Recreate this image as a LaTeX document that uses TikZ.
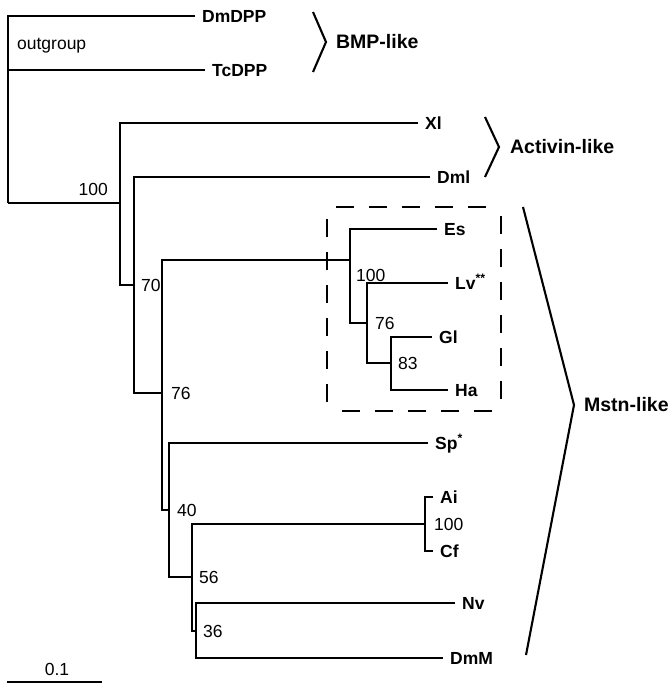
\documentclass[tikz,border=0pt]{standalone}
\usepackage{fontspec}
\setmainfont{Liberation Sans}
\usetikzlibrary{positioning}
\begin{document}
\begin{tikzpicture}[x=1pt, y=-1pt, line width=2.3pt,
	leaf/.style = {anchor=west, inner xsep=6pt, inner ysep=0pt, text height=12pt, text depth=0pt, font=\fontsize{17.5}{20}\selectfont\bfseries},
	boot/.style = {anchor=west, inner sep=0pt, text height=12pt, text depth=0pt, font=\fontsize{17.5}{20}\selectfont},
	group/.style = {anchor=west, inner sep=0pt, text height=13.5pt, text depth=0pt, font=\fontsize{19.5}{22}\selectfont\bfseries},
	brace/.style = {line width=2.1pt},
	box/.style = {line width=2.3pt, dash pattern=on 18pt off 15pt, shorten <=9pt, shorten >=9pt}]
	\useasboundingbox (0,0) rectangle (668,686);

	\coordinate (r) at (8,203);
	\coordinate (n1) at (120,203);
	\coordinate (n2) at (134,285);
	\coordinate (n3) at (162,393);
	\coordinate (n4) at (350,260);
	\coordinate (n6) at (367,323);
	\coordinate (n7) at (391,363);
	\coordinate (n5) at (169,510);
	\coordinate (n8) at (192,577);
	\coordinate (n9) at (425,524);
	\coordinate (n10) at (196,631);

	\node[leaf] (dmdpp) at (195,16) {DmDPP};
	\node[leaf] (tcdpp) at (205,70) {TcDPP};
	\node[leaf] (xl) at (418,123) {Xl};
	\node[leaf] (dml) at (430,177) {Dml};
	\node[leaf] (es) at (437,229) {Es};
	\node[leaf] (lv) at (448,283) {Lv\textsuperscript{**}};
	\node[leaf] (gl) at (432,337) {Gl};
	\node[leaf] (ha) at (448,390) {Ha};
	\node[leaf] (sp) at (428,443) {Sp\textsuperscript{*}};
	\node[leaf] (ai) at (433,497) {Ai};
	\node[leaf] (cf) at (433,551) {Cf};
	\node[leaf] (nv) at (455,603) {Nv};
	\node[leaf] (dmm) at (443,658) {DmM};
	\node[boot] (og) at (16,43) {outgroup};

	\draw (dmdpp.west) -| (r);
	\draw (tcdpp.west) -| (r);
	\draw (r) -- (n1);
	\draw (xl.west) -| (n1);
	\draw (n2) -| (n1);
	\draw (dml.west) -| (n2);
	\draw (n3) -| (n2);
	\draw (n4) -| (n3);
	\draw (n5) -| (n3);
	\draw (es.west) -| (n4);
	\draw (n6) -| (n4);
	\draw (lv.west) -| (n6);
	\draw (n7) -| (n6);
	\draw (gl.west) -| (n7);
	\draw (ha.west) -| (n7);
	\draw (sp.west) -| (n5);
	\draw (n8) -| (n5);
	\draw (n9) -| (n8);
	\draw (n10) -| (n8);
	\draw (ai.west) -| (n9);
	\draw (cf.west) -| (n9);
	\draw (nv.west) -| (n10);
	\draw (dmm.west) -| (n10);

	\node[boot, above left=6pt and 11pt of n1] (b1) {100};
	\node[boot, right=6pt of n2] (b2) {70};
	\node[boot, right=8pt of n3] (b3) {76};
	\node[boot, below right=8pt and 5pt of n4] (b4) {100};
	\node[boot, right=7pt of n6] (b6) {76};
	\node[boot, right=6pt of n7] (b7) {83};
	\node[boot, right=7pt of n5] (b5) {40};
	\node[boot, right=6pt of n8] (b8) {56};
	\node[boot, right=8pt of n9] (b9) {100};
	\node[boot, right=6pt of n10] (b10) {36};

	\coordinate (bx1) at (327,207);
	\coordinate (bx2) at (501,207);
	\coordinate (bx3) at (501,411);
	\coordinate (bx4) at (327,411);
	\draw[box] (bx1) -- (bx2);
	\draw[box] (bx2) -- (bx3);
	\draw[box] (bx3) -- (bx4);
	\draw[box] (bx4) -- (bx1);

	\coordinate (bmp) at (326,42);
	\coordinate (act) at (499,147);
	\coordinate (mstn) at (574,405);
	\draw[brace] (313,12) -- (bmp) -- (313,72);
	\draw[brace] (485,117) -- (act) -- (485,177);
	\draw[brace] (523,207) -- (mstn) -- (526,655);
	\node[group, right=9pt of bmp] (g1) {BMP-like};
	\node[group, right=10pt of act] (g2) {Activin-like};
	\node[group, right=9pt of mstn] (g3) {Mstn-like};

	\coordinate (s0) at (7,682);
	\coordinate (s1) at (102,682);
	\draw (s0) -- (s1);
	\node[boot, anchor=south] (scale) at (57,677) {0.1};
\end{tikzpicture}
\end{document}
